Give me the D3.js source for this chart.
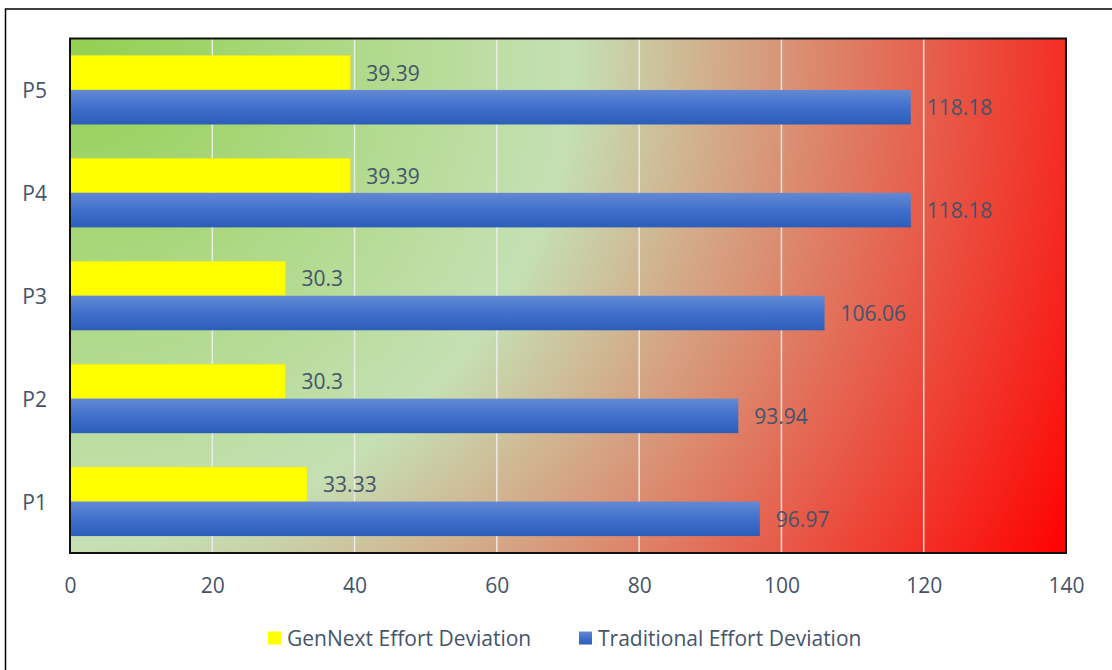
<!DOCTYPE html>
<html>
<head>
<meta charset="utf-8">
<script src="https://cdn.jsdelivr.net/npm/d3@7"></script>
<style>
  html, body { margin: 0; padding: 0; background: #ffffff; }
  svg { display: block; }
  text { font-family: "Open Sans", "Noto Sans", sans-serif; fill: #44546a; }
</style>
</head>
<body>
<svg id="chart" width="1112" height="670"></svg>
<script>
// Effort deviation per project
const categories = ["P1", "P2", "P3", "P4", "P5"];
const genNext = [33.33, 30.3, 30.3, 39.39, 39.39];
const traditional = [96.97, 93.94, 106.06, 118.18, 118.18];
const xTicks = [0, 20, 40, 60, 80, 100, 120, 140];
const seriesNames = ["GenNext Effort Deviation", "Traditional Effort Deviation"];

const W = 1112, H = 670;
const plot = { left: 70, top: 38.5, right: 1066, bottom: 553 };
const fontSize = 21;

const svg = d3.select("#chart");
const defs = svg.append("defs");

// Background: radial sweep from green in the top-left corner to red in the bottom-right
const bgR = Math.hypot(plot.right - plot.left, plot.bottom - plot.top);
const bg = defs.append("radialGradient")
  .attr("id", "bgGrad")
  .attr("gradientUnits", "userSpaceOnUse")
  .attr("cx", plot.left).attr("cy", plot.top)
  .attr("fx", plot.left).attr("fy", plot.top)
  .attr("r", bgR);
bg.append("stop").attr("offset", 0).attr("stop-color", "#92d050");
bg.append("stop").attr("offset", 0.45).attr("stop-color", "#c5e0b4");
bg.append("stop").attr("offset", 1).attr("stop-color", "#ff0000");

// Blue bar shading, light at the top edge
const blue = defs.append("linearGradient")
  .attr("id", "blueGrad")
  .attr("x1", 0).attr("y1", 0).attr("x2", 0).attr("y2", 1);
blue.append("stop").attr("offset", 0).attr("stop-color", "#6389d3");
blue.append("stop").attr("offset", 0.5).attr("stop-color", "#4070cc");
blue.append("stop").attr("offset", 1).attr("stop-color", "#2c5db8");

// Outer chart frame
svg.append("rect")
  .attr("x", 5.5).attr("y", 9).attr("width", W + 20).attr("height", H + 20)
  .attr("fill", "none").attr("stroke", "#000").attr("stroke-width", 1.5);

const x = d3.scaleLinear().domain([0, 140]).range([plot.left, plot.right]);
const y = d3.scaleBand()
  .domain(categories.slice().reverse())
  .range([plot.top, plot.bottom])
  .paddingInner(0).paddingOuter(0);
const ySub = d3.scaleBand()
  .domain(seriesNames)
  .range([0, y.bandwidth()])
  .paddingInner(0).paddingOuter(0.49);

// Plot area background
svg.append("rect")
  .attr("x", plot.left).attr("y", plot.top)
  .attr("width", plot.right - plot.left).attr("height", plot.bottom - plot.top)
  .attr("fill", "url(#bgGrad)");

// Vertical gridlines
svg.append("g")
  .selectAll("line")
  .data(xTicks.filter(t => t > 0 && t < 140))
  .join("line")
  .attr("x1", d => x(d)).attr("x2", d => x(d))
  .attr("y1", plot.top).attr("y2", plot.bottom)
  .attr("stroke", "#eeeeee").attr("stroke-opacity", 0.9).attr("stroke-width", 1.5);

const rows = categories.map((c, i) => ({ cat: c, values: [genNext[i], traditional[i]] }));
const fills = ["#ffff00", "url(#blueGrad)"];

const groups = svg.append("g")
  .selectAll("g")
  .data(rows)
  .join("g")
  .attr("transform", d => `translate(0,${y(d.cat)})`);

groups.selectAll("rect")
  .data(d => d.values.map((v, k) => ({ v, k })))
  .join("rect")
  .attr("x", x(0))
  .attr("y", d => ySub(seriesNames[d.k]))
  .attr("width", d => x(d.v) - x(0))
  .attr("height", ySub.bandwidth())
  .attr("fill", d => fills[d.k])
  .attr("stroke", d => d.k === 0 ? "#e3e33a" : "none")
  .attr("stroke-width", 0.75);

// Value labels
groups.selectAll("text")
  .data(d => d.values.map((v, k) => ({ v, k })))
  .join("text")
  .attr("x", d => x(d.v) + 16)
  .attr("y", d => ySub(seriesNames[d.k]) + ySub.bandwidth() / 2)
  .attr("dominant-baseline", "central")
  .attr("font-size", fontSize)
  .text(d => d.v);

// Plot frame
svg.append("rect")
  .attr("x", plot.left).attr("y", plot.top)
  .attr("width", plot.right - plot.left).attr("height", plot.bottom - plot.top)
  .attr("fill", "none").attr("stroke", "#111").attr("stroke-width", 2);

// Category axis
const yAxis = d3.axisLeft(y).tickSize(0).tickPadding(23);
const gy = svg.append("g").attr("transform", `translate(${plot.left},0)`).call(yAxis);
gy.select(".domain").remove();
gy.selectAll("text")
  .attr("font-size", fontSize)
  .attr("font-family", null)
  .attr("fill", "#44546a")
  .attr("dy", null)
  .attr("dominant-baseline", "central");

// Value axis
const xAxis = d3.axisBottom(x).tickValues(xTicks).tickSize(0).tickPadding(0);
const gx = svg.append("g").attr("transform", `translate(0,${plot.bottom})`).call(xAxis);
gx.select(".domain").remove();
gx.selectAll("text")
  .attr("font-size", fontSize)
  .attr("font-family", null)
  .attr("fill", "#44546a")
  .attr("y", 31.5)
  .attr("dy", null)
  .attr("dominant-baseline", "central");

// Legend
const legendItems = [
  { name: seriesNames[0], fill: "#ffff00", x: 268 },
  { name: seriesNames[1], fill: "url(#blueGrad)", x: 579 }
];
const legend = svg.append("g").selectAll("g").data(legendItems).join("g")
  .attr("transform", d => `translate(${d.x},638)`);
legend.append("rect")
  .attr("x", 0).attr("y", -6.5).attr("width", 13).attr("height", 13)
  .attr("fill", d => d.fill);
legend.append("text")
  .attr("x", 19).attr("y", 0)
  .attr("dominant-baseline", "central")
  .attr("font-size", fontSize)
  .text(d => d.name);
</script>
</body>
</html>
